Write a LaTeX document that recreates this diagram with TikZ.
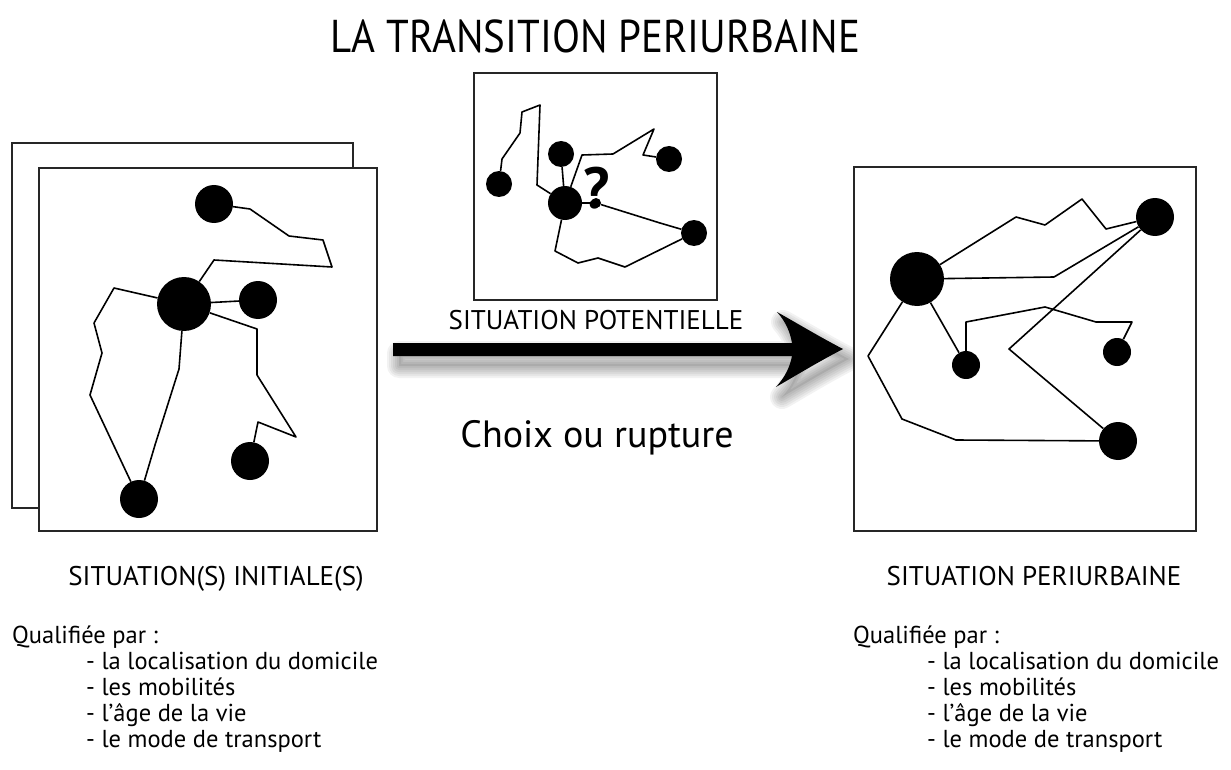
\documentclass[tikz,border=0pt]{standalone}
\usepackage{fontspec}
\setmainfont{PT Sans}
\begin{document}
\begin{tikzpicture}[x=1pt,y=-1pt,
  blob/.style={circle,fill=black,inner sep=0pt,minimum size=#1},
  link/.style={line width=1.6pt,line join=round},
  panel/.style={draw=black!85,line width=1.3pt,fill=white},
  txt/.style={inner sep=0pt,anchor=base},
  txtl/.style={inner sep=0pt,anchor=base west},
  big/.style={font=\fontsize{46}{50}\selectfont},
  mid/.style={font=\fontsize{38}{42}\selectfont},
  lab/.style={font=\fontsize{27}{30}\selectfont},
  lst/.style={font=\fontsize{24.5}{30}\selectfont}
]
\useasboundingbox (0,0) rectangle (1231,770);

% title
\node[txt,big] (title) at (595,53) {\scalebox{0.89}[1]{LA TRANSITION PERIURBAINE}};

% ---------- left panels
\draw[panel] (12,143) rectangle (353,508);
\draw[panel] (39,168) rectangle (377,531);
\node[blob=38pt] (L1) at (214,204) {};
\node[blob=54pt] (L0) at (184,304) {};
\node[blob=38pt] (L2) at (258,300) {};
\node[blob=38pt] (L3) at (250,461) {};
\node[blob=38pt] (L4) at (139,499) {};
\draw[link] (L1) -- (250,209) -- (289,236) -- (323,240) -- (332,267) -- (214,260) -- (L0);
\draw[link] (L0) -- (L2);
\draw[link] (L0) -- (257,329) -- (257,375) -- (296,437) -- (258,422) -- (L3);
\draw[link] (L0) -- (114,288) -- (94,323) -- (102,353) -- (90,395) -- (L4);
\draw[link] (L0) -- (179,369) -- (155,445) -- (L4);

% ---------- middle panel
\draw[panel] (474,73) rectangle (717,300);
\node[blob=34pt] (M0) at (565,203) {};
\node[blob=26pt] (M1) at (499,184) {};
\node[blob=26pt] (M2) at (561,154) {};
\node[blob=26pt] (M3) at (669,159) {};
\node[blob=26pt] (M4) at (694,233) {};
\node[blob=10pt] (Q) at (596,203) {};
\node[inner sep=0pt,anchor=base,font=\fontsize{58}{60}\selectfont\bfseries] (qm) at (597,208) {?};
\draw[link] (M1) -- (502,159) -- (520,133) -- (522,112) -- (540,105) -- (537,185) -- (M0);
\draw[link] (M2) -- (M0);
\draw[link] (M0) -- (582,155) -- (613,154) -- (654,129) -- (643,155) -- (M3);
\draw[link] (M0) -- (Q) -- (660,223) -- (M4);
\draw[link] (M0) -- (555,251) -- (578,263) -- (598,258) -- (625,267) -- (M4);
\node[txt,lab] (pot) at (596,329) {SITUATION POTENTIELLE};

% ---------- arrow with soft shadow
\def\arrowshape{(393,343) -- (792,343) .. controls (790,332) and (786,322) .. (777,312) .. controls (795,322) and (818,336) .. (843,349) .. controls (818,362) and (795,376) .. (776,387) .. controls (786,376) and (790,366) .. (792,356) -- (393,356) -- cycle}
\begin{scope}[shift={(6,10)}]
  \foreach \w in {24,20,16,12,8,4}{
    \draw[line width=\w pt,line join=round,draw=black,opacity=0.05] \arrowshape;
  }
  \fill[black,opacity=0.08] \arrowshape;
\end{scope}
\fill[black] \arrowshape;

\node[txt,mid] (choix) at (597,447) {Choix ou rupture};

% ---------- right panel
\draw[panel] (854,167) rectangle (1196,531);
\node[blob=54pt] (R0) at (917,279) {};
\node[blob=38pt] (R1) at (1155,217) {};
\node[blob=28pt] (R2) at (966,365) {};
\node[blob=28pt] (R3) at (1117,352) {};
\node[blob=38pt] (R4) at (1118,441) {};
\draw[link] (R0) -- (1016,217) -- (1045,225) -- (1082,199) -- (1106,229) -- (R1);
\draw[link] (R0) -- (1054,277) -- (R1);
\draw[link] (R1) -- (1009,349) -- (R4);
\draw[link] (R0) -- (R2);
\draw[link] (R2) -- (966,322) -- (1045,307) -- (1096,322) -- (1132,322) -- (R3);
\draw[link] (R0) -- (868,356) -- (902,419) -- (956,440) -- (R4);

% ---------- captions
\node[txt,lab] (ini) at (216,585) {SITUATION(S) INITIALE(S)};
\node[txt,lab] (peri) at (1034,585) {SITUATION PERIURBAINE};

\node[txtl,lst] (qa) at (12,643) {Qualifiée par :};
\node[txtl,lst] (a1) at (86,669) {- la localisation du domicile};
\node[txtl,lst] (a2) at (86,695) {- les mobilités};
\node[txtl,lst] (a3) at (86,721) {- l’âge de la vie};
\node[txtl,lst] (a4) at (86,747) {- le mode de transport};

\node[txtl,lst] (qb) at (853,643) {Qualifiée par :};
\node[txtl,lst] (b1) at (927,669) {- la localisation du domicile};
\node[txtl,lst] (b2) at (927,695) {- les mobilités};
\node[txtl,lst] (b3) at (927,721) {- l’âge de la vie};
\node[txtl,lst] (b4) at (927,747) {- le mode de transport};
\end{tikzpicture}
\end{document}
